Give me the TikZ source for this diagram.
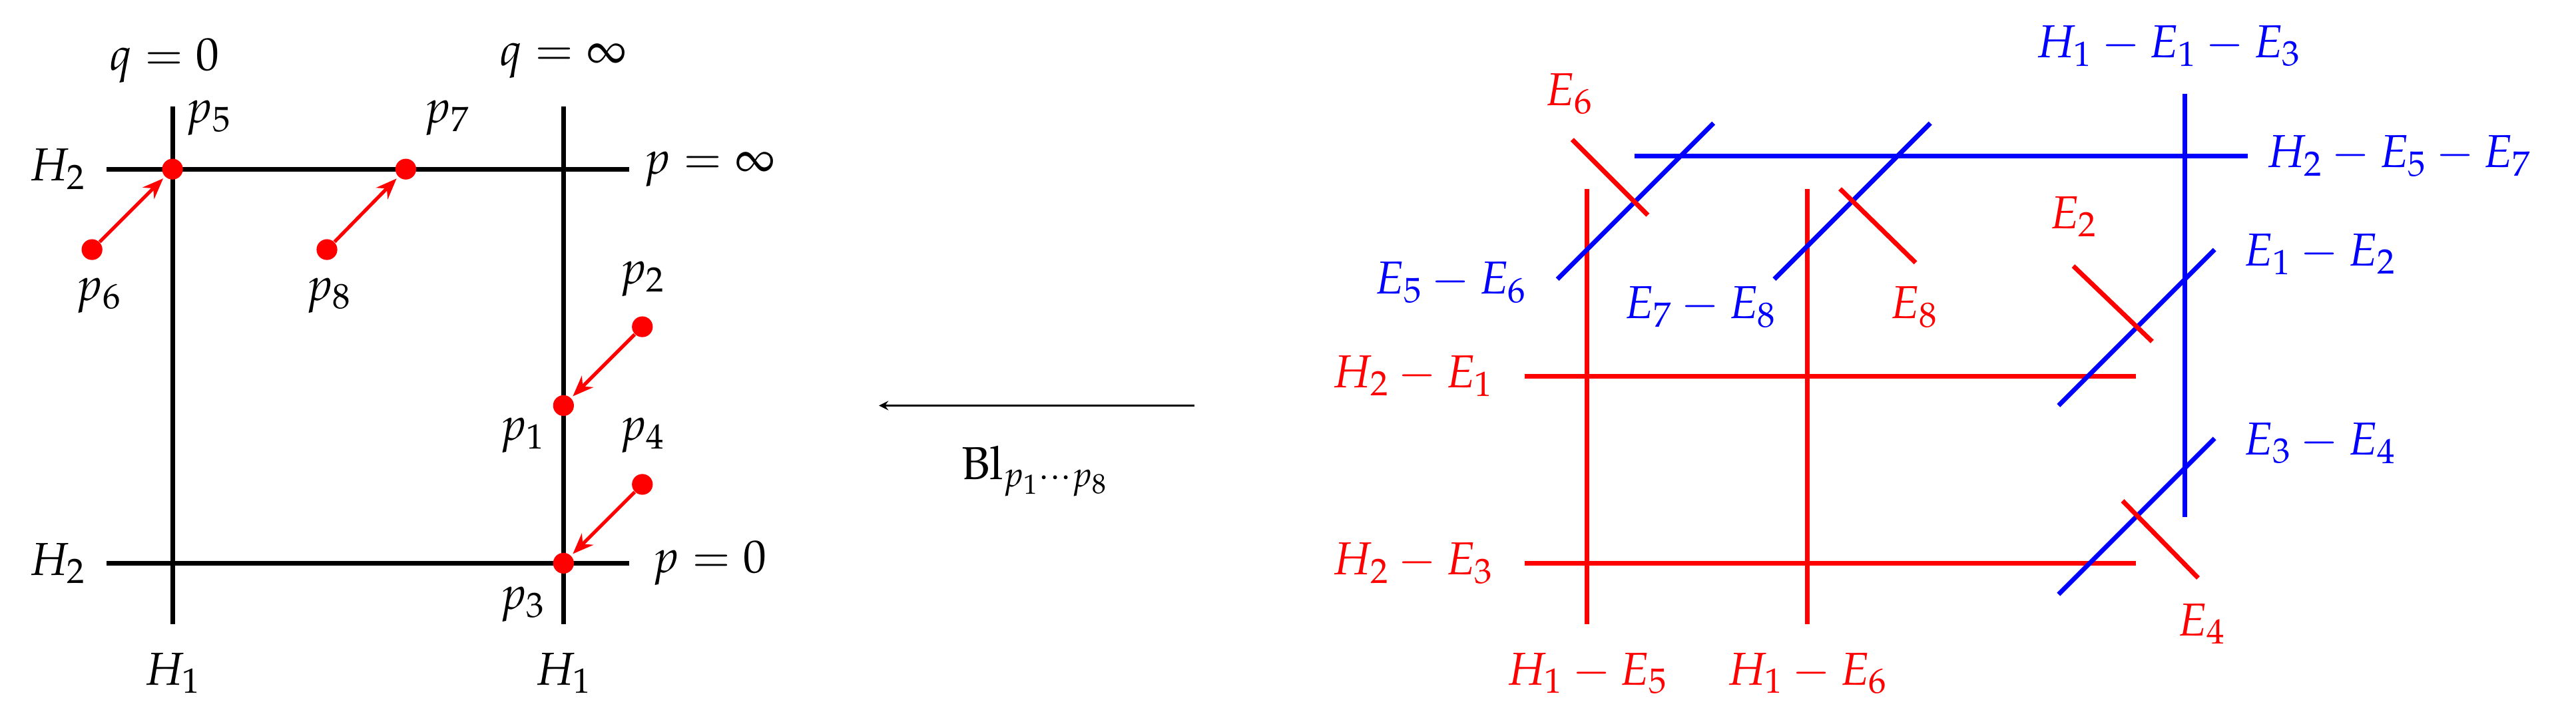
\documentclass[tikz,border=0pt]{standalone}
\usepackage{mathpazo}
\usetikzlibrary{arrows.meta}
\tikzset{
  blk/.style={line width=2pt,black},
  rl/.style={line width=2pt,red},
  bl/.style={line width=2pt,blue},
  lab/.style={font=\fontsize{20}{23}\selectfont,inner sep=1pt},
  rlab/.style={lab,text=red},
  blab/.style={lab,text=blue},
  dot/.style={circle,fill=red,inner sep=0pt,minimum size=9pt},
  arr/.style={red,line width=1.5pt,-{Stealth[length=9pt,width=7pt]},shorten >=1pt}
}
\begin{document}
\begin{tikzpicture}[x=0.025cm,y=-0.025cm]
\useasboundingbox (0,0) rectangle (1568,437);
% left
\coordinate (v1t) at (105,65); \coordinate (v1b) at (105,380);
\coordinate (v2t) at (343,65); \coordinate (v2b) at (343,380);
\coordinate (h1l) at (65,103); \coordinate (h1r) at (383,103);
\coordinate (h2l) at (65,343); \coordinate (h2r) at (383,343);
\draw[blk] (v1t)--(v1b); \draw[blk] (v2t)--(v2b);
\draw[blk] (h1l)--(h1r); \draw[blk] (h2l)--(h2r);
\node[lab] (q0) at (100,37) {$q=0$};
\node[lab] (qi) at (343,37) {$q=\infty$};
\node[lab] (pi) at (432,103) {$p=\infty$};
\node[lab] (p0) at (432,343) {$p=0$};
\node[lab] (H2a) at (35,103) {$H_2$};
\node[lab] (H2b) at (35,343) {$H_2$};
\node[lab] (H1a) at (105,410) {$H_1$};
\node[lab] (H1b) at (343,410) {$H_1$};
\node[dot] (P5) at (105,103) {}; \node[lab] at (127,72) {$p_5$};
\node[dot] (P7) at (247,103) {}; \node[lab] at (272,72) {$p_7$};
\node[dot] (P6) at (56,152) {}; \node[lab] at (60,180) {$p_6$};
\node[dot] (P8) at (199,152) {}; \node[lab] at (200,180) {$p_8$};
\node[dot] (P2) at (391,199) {}; \node[lab] at (391,170) {$p_2$};
\node[dot] (P1) at (343,247) {}; \node[lab] at (318,265) {$p_1$};
\node[dot] (P4) at (391,295) {}; \node[lab] at (391,265) {$p_4$};
\node[dot] (P3) at (343,343) {}; \node[lab] at (318,368) {$p_3$};
\draw[arr] (P6)--(P5); \draw[arr] (P8)--(P7);
\draw[arr] (P2)--(P1); \draw[arr] (P4)--(P3);
% middle
\coordinate (ma) at (727,247); \coordinate (mb) at (535,247);
\draw[-stealth,line width=0.8pt] (ma)--(mb);
\node[lab] (bl) at (630,287) {$\mathrm{Bl}_{p_1\cdots p_8}$};
% right red
\draw[rl] (966,115)--(966,380); \draw[rl] (1100,115)--(1100,380);
\draw[rl] (928,229)--(1300,229); \draw[rl] (928,343)--(1300,343);
\node[rlab] at (860,229) {$H_2-E_1$};
\node[rlab] at (860,343) {$H_2-E_3$};
\node[rlab] at (966,410) {$H_1-E_5$};
\node[rlab] at (1100,410) {$H_1-E_6$};
% blue
\draw[bl] (995,95)--(1368,95); \draw[bl] (1330,57)--(1330,315);
\node[blab] at (1320,28) {$H_1-E_1-E_3$};
\node[blab] at (1460,95) {$H_2-E_5-E_7$};
\draw[bl] (948,170)--(1043,75); \node[blab] at (883,172) {$E_5-E_6$};
\draw[bl] (1080,170)--(1175,75); \node[blab] at (1035,187) {$E_7-E_8$};
\draw[bl] (1253,247)--(1348,152); \node[blab] at (1412,155) {$E_1-E_2$};
\draw[bl] (1253,362)--(1348,267); \node[blab] at (1412,270) {$E_3-E_4$};
% red short
\draw[rl] (957,85)--(1003,131); \node[rlab] at (955,57) {$E_6$};
\draw[rl] (1120,115)--(1166,160); \node[rlab] at (1165,187) {$E_8$};
\draw[rl] (1262,162)--(1310,208); \node[rlab] at (1262,132) {$E_2$};
\draw[rl] (1292,305)--(1338,352); \node[rlab] at (1340,380) {$E_4$};
\end{tikzpicture}
\end{document}
